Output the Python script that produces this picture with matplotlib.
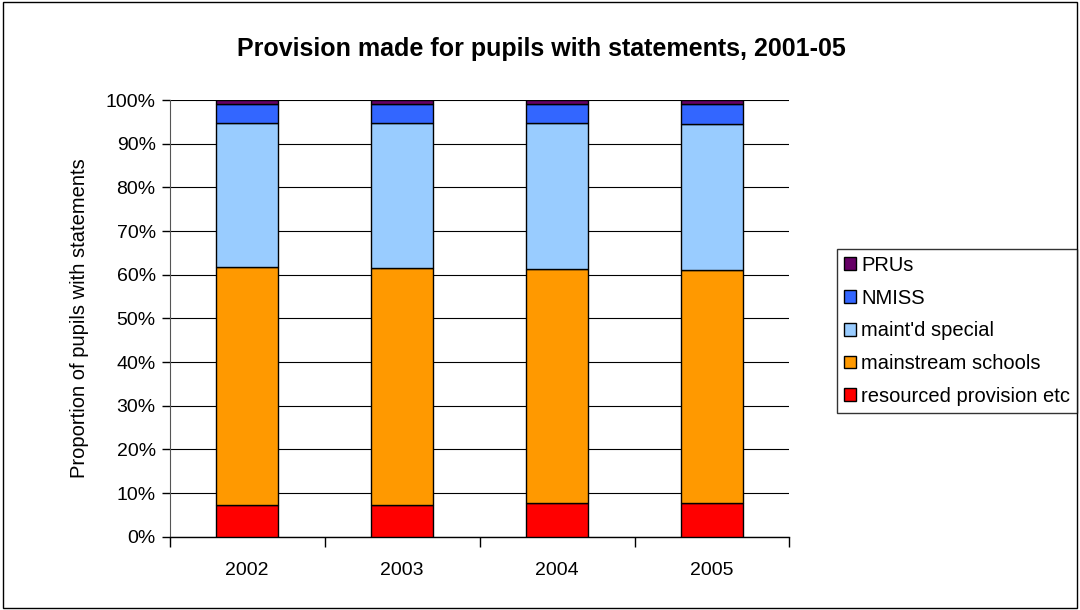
import numpy as np
import matplotlib.pyplot as plt
from matplotlib.ticker import PercentFormatter, FixedLocator

plt.rcParams['font.family'] = ['Liberation Sans', 'DejaVu Sans']

years = ['2002', '2003', '2004', '2005']
series = ['resourced provision etc', 'mainstream schools', "maint'd special", 'NMISS', 'PRUs']
resourced = [7.3, 7.3, 7.8, 7.8]
mainstream = [54.5, 54.2, 53.6, 53.3]
maintd_special = [32.9, 33.2, 33.3, 33.3]
nmiss = [4.4, 4.4, 4.4, 4.7]
prus = [0.9, 0.9, 0.9, 0.9]
colors = ['#ff0000', '#ff9900', '#99ccff', '#3366ff', '#660066']

fig = plt.figure(figsize=(10.8, 6.1), dpi=100)
ax = fig.add_axes([0.157, 0.12, 0.574, 0.716])

x = np.arange(len(years))
bottom = np.zeros(len(years))
for name, vals, c in zip(series, [resourced, mainstream, maintd_special, nmiss, prus], colors):
    ax.bar(x, vals, width=0.4, bottom=bottom, color=c, edgecolor='black',
           linewidth=1, label=name, zorder=3)
    bottom += np.array(vals)

ax.set_xlim(-0.5, len(years) - 0.5)
ax.set_ylim(0, 100)
ax.yaxis.set_major_locator(FixedLocator(np.arange(0, 101, 10)))
ax.yaxis.set_major_formatter(PercentFormatter(decimals=0))
ax.grid(axis='y', color='black', linewidth=0.8, zorder=0)

# category labels at the centres, tick marks at the boundaries
ax.set_xticks(x)
ax.set_xticklabels(years)
ax.tick_params(axis='x', which='major', length=0, pad=18, labelsize=14)
ax.set_xticks(np.arange(-0.5, len(years), 1), minor=True)
ax.tick_params(axis='x', which='minor', length=7, width=1)
ax.tick_params(axis='y', length=6, width=1, labelsize=14, pad=4)

for side in ['top', 'right']:
    ax.spines[side].set_visible(False)
ax.spines['left'].set_color('#555555')
ax.spines['bottom'].set_linewidth(1)

ax.set_ylabel('Proportion of pupils with statements', fontsize=14.5, labelpad=12)
fig.suptitle('Provision made for pupils with statements, 2001-05', fontsize=18,
             fontweight='bold', x=0.501, y=0.94)

handles, labels = ax.get_legend_handles_labels()
leg = fig.legend(handles[::-1], labels[::-1], loc='upper left',
                 bbox_to_anchor=(0.775, 0.592), fontsize=14.5, frameon=True,
                 fancybox=False, edgecolor='black', handlelength=0.6,
                 handleheight=0.6, handletextpad=0.25, labelspacing=0.68,
                 borderpad=0.35, borderaxespad=0)
leg.get_frame().set_linewidth(1)

# outer chart border
fig.patches.append(plt.Rectangle((0.003, 0.003), 0.994, 0.994, transform=fig.transFigure,
                                 fill=False, edgecolor='black', linewidth=1))

fig.savefig('out.png', dpi=100)
